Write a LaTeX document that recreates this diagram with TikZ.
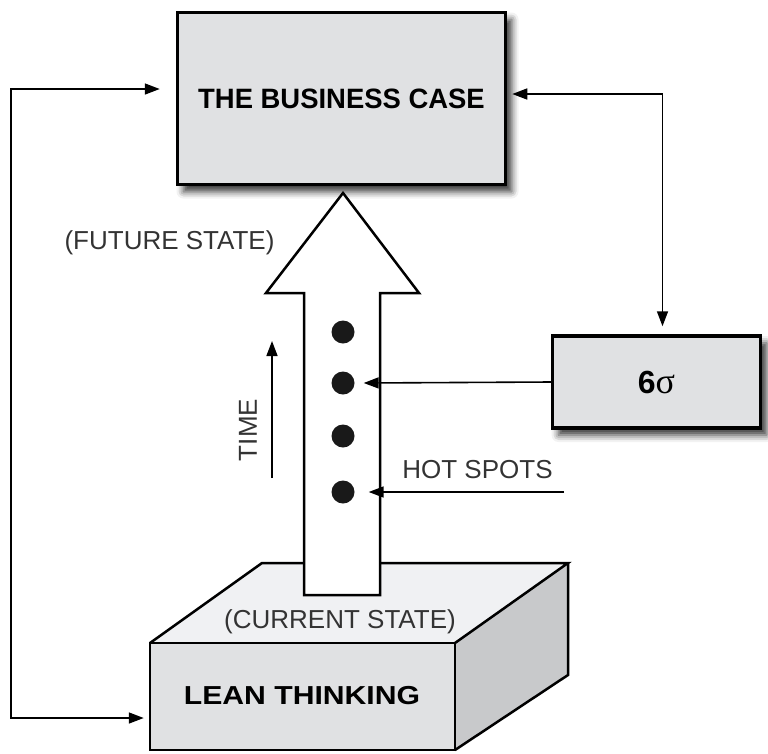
\documentclass[tikz,border=0pt]{standalone}
\usepackage{fontspec}
\setmainfont{Liberation Sans}
\newfontfamily\serifgreek{Liberation Serif}
\usetikzlibrary{arrows.meta,shadows.blur}
\definecolor{boxgray}{HTML}{E0E1E3}
\definecolor{topgray}{HTML}{F0F1F3}
\definecolor{sidegray}{HTML}{C8C9CB}
\tikzset{
  mainbox/.style={draw=black,line width=3.5pt,fill=boxgray,inner sep=0pt,
    blur shadow={shadow xshift=6pt,shadow yshift=-7pt,shadow blur radius=7pt,shadow opacity=80}},
  conn/.style={line width=1.6pt,-{Triangle[length=15pt,width=11pt]}},
  lighttext/.style={font=\fontsize{26}{28}\selectfont,text=black!80,inner sep=0pt},
  dotnode/.style={circle,fill=black!90,minimum size=23pt,inner sep=0pt},
  edge3d/.style={line width=2.5pt,line join=miter},
}
\begin{document}
\begin{tikzpicture}[x=1pt,y=-1pt]
\useasboundingbox (0,0) rectangle (768,753);
% business case
\node[mainbox,minimum width=328pt,minimum height=172pt] (biz) at (341.5,98.5)
  {\fontsize{28}{30}\selectfont\bfseries\scalebox{0.98}[1]{THE BUSINESS CASE}};
% six sigma
\node[mainbox,minimum width=208pt,minimum height=92pt] (sig) at (656.5,382)
  {\fontsize{32}{34}\selectfont\bfseries 6{\serifgreek\mdseries\fontsize{36}{38}\selectfont σ}};
% lean thinking 3D box
\fill[topgray] (150,643) -- (262,563) -- (568,563) -- (455,643) -- cycle;
\fill[sidegray] (455,643) -- (568,563) -- (568,675) -- (455,750) -- cycle;
\node[draw=black,line width=2.5pt,fill=boxgray,minimum width=305pt,minimum height=107pt,inner sep=0pt] (lean) at (302.5,696.5) {};
\draw[edge3d] (150,643) -- (262,563) -- (568,563) -- (455,643);
\draw[edge3d] (568,563) -- (568,675) -- (455,750);
\node[font=\fontsize{26}{28}\selectfont\bfseries,inner sep=0pt] (leantext) at (302,696) {\scalebox{1.16}[1]{LEAN THINKING}};
\node[lighttext] (current) at (340,622) {(CURRENT STATE)};
% big arrow
\draw[line width=2.5pt,fill=white,line join=miter]
  (304,595) -- (304,293) -- (266,293) -- (343,193) -- (419,293) -- (380,293) -- (380,595) -- cycle;
% dots
\node[dotnode] (d1) at (343,332) {};
\node[dotnode] (d2) at (343,383) {};
\node[dotnode] (d3) at (343,436) {};
\node[dotnode] (d4) at (343,492) {};
% texts
\node[lighttext] (future) at (169.5,243) {(FUTURE STATE)};
\node[lighttext] (hot) at (477.5,470) {HOT SPOTS};
\node[lighttext,rotate=90] (time) at (248,430) {TIME};
% time arrow
\coordinate (tb) at (272,478);
\coordinate (tt) at (272,341);
\draw[conn] (tb) -- (tt);
% hot spots arrow
\coordinate (hs) at (564,492);
\draw[conn] (hs) -- ([xshift=14pt]d4.east);
% sigma to dot
\draw[conn] (sig.west) -- ([xshift=9pt]d2.east);
% business <-> sigma
\draw[line width=1.6pt,{Triangle[length=15pt,width=11pt]}-{Triangle[length=15pt,width=11pt]}]
  ([xshift=5pt,yshift=4.5pt]biz.east) -| ([xshift=6pt,yshift=8pt]sig.north);
% left loop
\draw[line width=1.6pt,{Triangle[length=15pt,width=11pt]}-{Triangle[length=15pt,width=11pt]}]
  ([xshift=-5pt,yshift=-21.5pt]lean.west) -- ++(-133,0) |- ([xshift=-16pt,yshift=9.5pt]biz.west);
\end{tikzpicture}
\end{document}
